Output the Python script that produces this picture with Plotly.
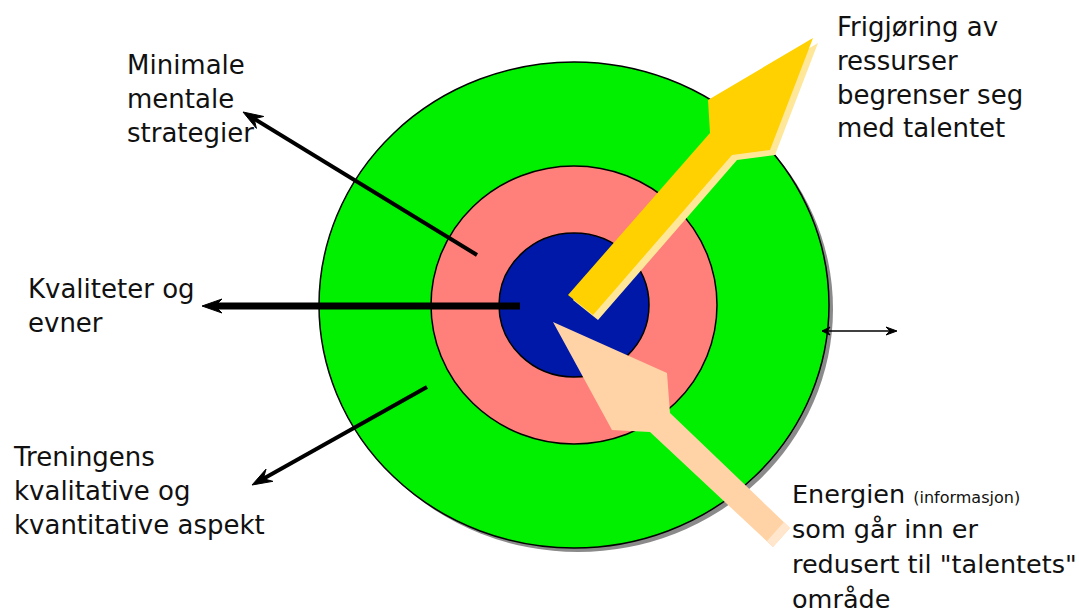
import plotly.graph_objects as go
import numpy as np

# ---- diagram data (pixel space of a 1079x616 canvas) ----
ring_center = [574, 305]
ring_rx = [255, 143, 75]
ring_ry = [243, 139, 72]
ring_colors = ["#00F000", "#FF7F7A", "#0018A8"]

yellow_arrow_x = [568, 710, 708, 813, 770, 732, 593]
yellow_arrow_y = [295, 133, 100, 38, 150, 155, 315]

peach_arrow_x = [553, 667, 670, 790, 773, 650, 612]
peach_arrow_y = [322, 373, 413, 528, 547, 432, 430]

pointer_tails = [(477, 255), (520, 306), (427, 387), (822, 331)]
pointer_tips = [(243, 112), (202, 306), (252, 485), (897, 331)]
pointer_widths = [4, 7, 4, 1.5]

labels = [
    "Minimale<br>mentale<br>strategier",
    "Kvaliteter og<br>evner",
    "Treningens<br>kvalitative og<br>kvantitative aspekt",
    "Frigjøring av<br>ressurser<br>begrenser seg<br>med talentet",
]
label_x = [125, 26, 11, 835]
label_y = [48, 272, 440, 10]

energy_lines = [
    "Energien <span style='font-size:16px'>(informasjon)</span>",
    "som går inn er",
    "redusert til \"talentets\"",
    "område",
]
energy_x = 790
energy_top = 477
energy_step = 35

W, H = 1079, 616
fig = go.Figure()

shapes = []
cx, cy = ring_center
shapes.append(dict(type="circle", xref="x", yref="y",
                   x0=cx - ring_rx[0] + 4, x1=cx + ring_rx[0] + 4,
                   y0=cy - ring_ry[0] + 4, y1=cy + ring_ry[0] + 4,
                   fillcolor="#8a8a8a", line=dict(width=0), layer="below"))
for rx, ry, col in zip(ring_rx, ring_ry, ring_colors):
    shapes.append(dict(type="circle", xref="x", yref="y",
                       x0=cx - rx, x1=cx + rx, y0=cy - ry, y1=cy + ry,
                       fillcolor=col, line=dict(color="black", width=1.5),
                       layer="below"))

fig.add_trace(go.Scatter(x=[v + 5 for v in yellow_arrow_x], y=[v + 5 for v in yellow_arrow_y],
                         fill="toself", mode="none", fillcolor="#FFE79A",
                         hoverinfo="skip", showlegend=False))
fig.add_trace(go.Scatter(x=yellow_arrow_x, y=yellow_arrow_y, fill="toself", mode="none",
                         fillcolor="#FFD100", hoverinfo="skip", showlegend=False))

fig.add_trace(go.Scatter(x=peach_arrow_x, y=peach_arrow_y, fill="toself", mode="none",
                         fillcolor="#FFD3A6", hoverinfo="skip", showlegend=False))
tx = [peach_arrow_x[3], peach_arrow_x[4]]
ty = [peach_arrow_y[3], peach_arrow_y[4]]
fig.add_trace(go.Scatter(x=[tx[0], tx[1], tx[1] - 6, tx[0] - 6],
                         y=[ty[0], ty[1], ty[1] - 6, ty[0] - 6],
                         fill="toself", mode="none", fillcolor="#FFE6CC",
                         hoverinfo="skip", showlegend=False))

def head(tip, d, L, Wd):
    d = np.array(d, float)
    d = d / np.linalg.norm(d)
    n = np.array([-d[1], d[0]])
    t = np.array(tip, float)
    pts = [t, t - L * d + Wd * n, t - 0.65 * L * d, t - L * d - Wd * n, t]
    return [p[0] for p in pts], [p[1] for p in pts]

for (t0, t1, w) in zip(pointer_tails, pointer_tips, pointer_widths):
    d = (t1[0] - t0[0], t1[1] - t0[1])
    L = 20 if w > 2 else 11
    Wd = 7 if w > 2 else 4
    dn = np.array(d, float) / np.hypot(*d)
    end = np.array(t1) - dn * L * 0.6
    fig.add_trace(go.Scatter(x=[t0[0], end[0]], y=[t0[1], end[1]], mode="lines",
                             line=dict(color="black", width=w), hoverinfo="skip",
                             showlegend=False))
    hx, hy = head(t1, d, L, Wd)
    fig.add_trace(go.Scatter(x=hx, y=hy, fill="toself", mode="lines",
                             line=dict(color="black", width=1), fillcolor="black",
                             hoverinfo="skip", showlegend=False))
    if w <= 2:
        hx, hy = head(t0, (-d[0], -d[1]), 8, 4)
        fig.add_trace(go.Scatter(x=hx, y=hy, fill="toself", mode="lines",
                                 line=dict(color="black", width=1), fillcolor="black",
                                 hoverinfo="skip", showlegend=False))

FONT = "DejaVu Sans, sans-serif"
annotations = []
for txt, x, y in zip(labels, label_x, label_y):
    annotations.append(dict(text=txt, x=x, y=y, xref="x", yref="y",
                            xanchor="left", yanchor="top", align="left",
                            showarrow=False,
                            font=dict(family=FONT, size=26, color="#111111")))
for i, txt in enumerate(energy_lines):
    annotations.append(dict(text=txt, x=energy_x, y=energy_top + i * energy_step,
                            xref="x", yref="y", xanchor="left", yanchor="top",
                            align="left", showarrow=False,
                            font=dict(family=FONT, size=25.5, color="#111111")))

fig.update_layout(
    width=W, height=H, margin=dict(l=0, r=0, t=0, b=0),
    paper_bgcolor="white", plot_bgcolor="white",
    xaxis=dict(range=[0, W], visible=False, fixedrange=True),
    yaxis=dict(range=[H, 0], visible=False, fixedrange=True),
    shapes=shapes, annotations=annotations, showlegend=False,
)

fig.write_html("out.html", config={"displayModeBar": False},
               post_script="document.body.style.margin='0';")
